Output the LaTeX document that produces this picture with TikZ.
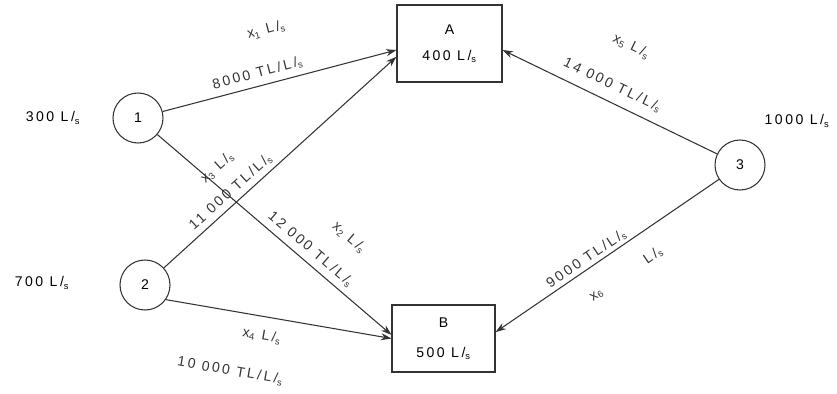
\documentclass[tikz,border=0pt]{standalone}
\usepackage{fontspec}
\setmainfont{Liberation Sans}[LetterSpace=18]
\usepackage{tikz}
\usetikzlibrary{arrows.meta}
\newcommand{\lps}{L/\textsubscript{s}}
\tikzset{
  sourcenode/.style={
    circle,
    draw=black!80,
    line width=0.9pt,
    minimum size=1.5cm,
    inner sep=0pt
  },
  demandbox/.style={
    rectangle,
    draw=black!80,
    line width=0.9pt,
    minimum width=3.15cm,
    minimum height=2.31cm,
    align=center,
    inner sep=2pt
  },
  flowline/.style={-{Stealth[length=9pt,width=6pt]}, line width=0.9pt, color=black!80},
  edgelabel/.style={sloped, inner sep=1pt},
  amountlabel/.style={inner sep=1pt}
}

\begin{document}
\begin{tikzpicture}[x=0.03cm,y=-0.03cm,font=\fontsize{12}{14}\selectfont]
\useasboundingbox (0,0) rectangle (837,394);
\node[sourcenode] (n1) at (138,118) {1};
\node[sourcenode] (n2) at (145,285) {2};
\node[sourcenode] (n3) at (740,165) {3};
\node[demandbox] (A) at (449.5,43.5) {A\\[8pt]400 \lps};
\node[demandbox, minimum width=3.09cm, minimum height=2.01cm] (B) at (443.5,338.5) {B\\[12pt]500 \lps};
\node[amountlabel] (q1) at (53,118) {300 \lps};
\node[amountlabel] (q2) at (42,283) {700 \lps};
\node[amountlabel] (q3) at (797,121) {1000 \lps};
\draw[flowline] (n1) -- (A.187)
  node[edgelabel, above=4pt, pos=0.42] {8000 TL/\lps}
  node[edgelabel, above=38pt, pos=0.50] {x\textsubscript{1} \lps};
\draw[flowline] (n2) -- (A.194)
  node[edgelabel, above=3pt, pos=0.32] {11 000 TL/\lps}
  node[edgelabel, above=26pt, pos=0.34] {x\textsubscript{3} \lps};
\draw[flowline] (n1) -- (B.176)
  node[edgelabel, above=4pt, pos=0.62] {12 000 TL/\lps}
  node[edgelabel, above=33pt, pos=0.69] {x\textsubscript{2} \lps};
\draw[flowline] (n2.-35) -- (B.west)
  node[edgelabel, below=10pt, pos=0.44] {x\textsubscript{4} \lps}
  node[edgelabel, below=44pt, pos=0.33] {10 000 TL/\lps};
\draw[flowline] (n3) -- (A.353)
  node[edgelabel, above=7pt, pos=0.52] {14 000 TL/\lps}
  node[edgelabel, above=44pt, pos=0.52] {x\textsubscript{5} \lps};
\draw[flowline] (n3) -- (B.7)
  node[edgelabel, above=1pt, pos=0.57] {9000 TL/\lps}
  node[edgelabel, below=15pt, pos=0.48] {x\textsubscript{6}\hspace{45pt}\lps};
\end{tikzpicture}
\end{document}
